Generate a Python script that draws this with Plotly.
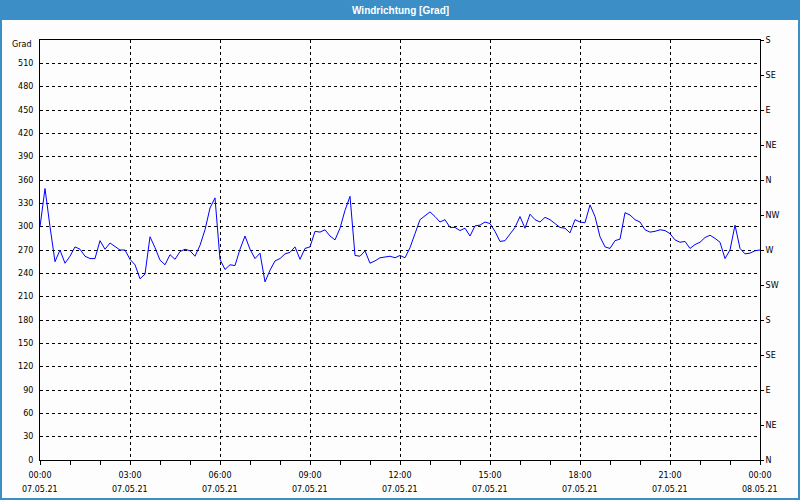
import pandas as pd
import plotly.graph_objects as go

# ---- data ----
start_time = "2021-05-07 00:00"
step_minutes = 10
direction_deg = [
    300, 349, 300, 255, 270, 253, 262, 274, 271, 262, 259, 259, 282, 271, 279, 275, 270, 270,
    258, 251, 233, 239, 287, 273, 257, 251, 264, 258, 268, 271, 269, 262, 276, 296, 324, 337,
    258, 245, 251, 250, 271, 288, 271, 259, 266, 229, 244, 256, 259, 265, 267, 274, 258, 272,
    274, 294, 293, 296, 288, 283, 298, 321, 339, 263, 262, 269, 253, 256, 260, 261, 262, 260,
    263, 260, 273, 291, 309, 314, 319, 313, 306, 309, 299, 299, 295, 298, 288, 301, 302, 306,
    304, 294, 281, 282, 291, 299, 313, 298, 316, 309, 306, 312, 309, 304, 299, 298, 292, 309,
    306, 305, 328, 313, 287, 274, 272, 282, 284, 318, 315, 309, 306, 296, 293, 294, 296, 295,
    291, 283, 280, 281, 272, 277, 280, 286, 289, 285, 280, 259, 270, 302, 272, 265, 266, 269,
    270,
]
times = pd.date_range(start_time, periods=len(direction_deg), freq=f"{step_minutes}min")

x_tick_times = ["2021-05-07 00:00", "2021-05-07 03:00", "2021-05-07 06:00", "2021-05-07 09:00",
                "2021-05-07 12:00", "2021-05-07 15:00", "2021-05-07 18:00", "2021-05-07 21:00",
                "2021-05-08 00:00"]
x_tick_time_text = ["00:00", "03:00", "06:00", "09:00", "12:00", "15:00", "18:00", "21:00", "00:00"]
x_tick_date_text = ["07.05.21"] * 8 + ["08.05.21"]

y_left_ticks = list(range(0, 511, 30))
y_right_ticks = list(range(0, 541, 45))
y_right_text = ["N", "NE", "E", "SE", "S", "SW", "W", "NW", "N", "NE", "E", "SE", "S"]

title_text = "Windrichtung [Grad]"
unit_text = "Grad"

# ---- layout geometry (pixels) ----
W, H = 800, 500
ML, MR, MT, MB = 40, 40, 40, 40
PW, PH = W - ML - MR, H - MT - MB


def px_x(px):
    return (px - ML) / PW


def px_y(py):
    return (H - MB - py) / PH


BLUE = "#3b8fc6"
BG = "#fcfdfc"
FONT = "DejaVu Sans"

fig = go.Figure()
fig.add_trace(go.Scatter(x=times, y=direction_deg, mode="lines",
                         line=dict(color="#0000ff", width=1), showlegend=False,
                         hoverinfo="x+y"))

fig.update_layout(
    width=W, height=H,
    margin=dict(l=ML, r=MR, t=MT, b=MB),
    paper_bgcolor=BG, plot_bgcolor=BG,
    font=dict(family=FONT, size=8, color="#000000"),
    showlegend=False,
    xaxis=dict(
        range=[x_tick_times[0], x_tick_times[-1]],
        tickmode="array", tickvals=x_tick_times, ticktext=x_tick_time_text,
        ticks="outside", ticklen=4, tickcolor="black", tickwidth=1,
        showline=True, linecolor="black", linewidth=1, mirror=True,
        showgrid=True, gridcolor="black", gridwidth=1, griddash="3px,3px",
        zeroline=False, ticklabelstandoff=3,
        minor=dict(dtick=3600000, ticks="outside", ticklen=4, tickcolor="black", showgrid=False),
        tickfont=dict(family=FONT, size=8, color="black"),
    ),
    yaxis=dict(
        range=[0, 540],
        tickmode="array", tickvals=y_left_ticks,
        ticks="", showline=True, linecolor="black", linewidth=1, mirror=True,
        showgrid=True, gridcolor="black", gridwidth=1, griddash="3px,3px",
        zeroline=False, ticklabelstandoff=4,
        tickfont=dict(family=FONT, size=8, color="black"),
    ),
    yaxis2=dict(
        range=[0, 540], overlaying="y", side="right",
        tickmode="array", tickvals=y_right_ticks, ticktext=y_right_text,
        ticks="outside", ticklen=3, tickcolor="black",
        showline=True, linecolor="black", linewidth=1,
        showgrid=False, zeroline=False,
        tickfont=dict(family=FONT, size=8, color="black"),
    ),
)

# invisible trace so the right axis is bound to the same data
fig.add_trace(go.Scatter(x=times, y=direction_deg, yaxis="y2", mode="lines",
                         line=dict(color="rgba(0,0,0,0)", width=0), showlegend=False,
                         hoverinfo="skip"))

shapes = [
    # window border
    dict(type="rect", xref="paper", yref="paper",
         x0=px_x(1), x1=px_x(W - 1), y0=px_y(H - 1), y1=px_y(10),
         line=dict(color=BLUE, width=2), fillcolor="rgba(0,0,0,0)", layer="below"),
    # title bar
    dict(type="rect", xref="paper", yref="paper",
         x0=px_x(0), x1=px_x(W), y0=px_y(20), y1=px_y(0),
         line=dict(width=0), fillcolor=BLUE, layer="below"),
]
fig.update_layout(shapes=shapes)

annotations = [
    dict(text=f"<b>{title_text}</b>", xref="paper", yref="paper", x=px_x(400), y=px_y(10),
         showarrow=False, xanchor="center", yanchor="middle",
         font=dict(family="Liberation Sans", size=10, color="white")),
    dict(text=unit_text, xref="paper", yref="paper", x=px_x(33), y=px_y(45),
         showarrow=False, xanchor="right", yanchor="middle",
         font=dict(family=FONT, size=8, color="black")),
]
for t, d in zip(x_tick_times, x_tick_date_text):
    annotations.append(dict(text=d, x=t, xref="x", yref="paper", y=px_y(489),
                            showarrow=False, xanchor="center", yanchor="middle",
                            font=dict(family=FONT, size=8, color="black")))
fig.update_layout(annotations=annotations)

fig.write_html("out.html")
